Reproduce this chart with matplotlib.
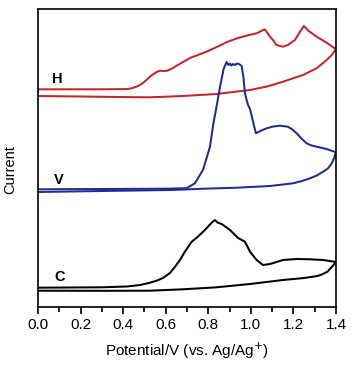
import matplotlib
matplotlib.use('Agg')
import matplotlib.pyplot as plt
from matplotlib.ticker import MultipleLocator

plt.rcParams['font.family'] = ['Liberation Sans', 'DejaVu Sans']

# cyclic voltammograms, current in arbitrary units (curves offset)
# H film
h_fwd_v = [0.0, 0.3, 0.418, 0.44, 0.465, 0.49, 0.512, 0.535, 0.559, 0.574, 0.59, 0.606,
           0.63, 0.653, 0.714, 0.794, 0.85, 0.888, 0.94, 0.982, 1.027, 1.058, 1.066, 1.074,
           1.09, 1.104, 1.12, 1.151, 1.174, 1.207, 1.231, 1.249, 1.27, 1.309, 1.356, 1.4]
h_fwd_i = [217.7, 217.7, 217.9, 218.7, 220.5, 223.5, 227.5, 232, 235.2, 236.3, 236, 236.2,
           238.5, 241.5, 249, 255.5, 261, 265, 269, 271.5, 273.7, 277, 277.5, 275.3,
           270.3, 267, 262, 260.3, 262, 267, 275.3, 281, 276.3, 270.3, 264.3, 257.7]
h_rev_v = [1.4, 1.38, 1.356, 1.309, 1.245, 1.151, 1.076, 0.996, 0.839, 0.681, 0.526, 0.371,
           0.2, 0.0]
h_rev_i = [257.7, 252, 247, 238.7, 232, 225.3, 220.5, 217, 213, 211, 209.7, 210,
           210.5, 211]

# V film
v_fwd_v = [0.0, 0.3, 0.6, 0.698, 0.737, 0.775, 0.808, 0.824, 0.836, 0.855, 0.872, 0.886,
           0.895, 0.902, 0.909, 0.916, 0.925, 0.935, 0.944, 0.957, 0.965, 0.972, 0.98, 0.987,
           0.996, 1.005, 1.015, 1.024, 1.045, 1.074, 1.105, 1.137, 1.174, 1.195, 1.215,
           1.24, 1.262, 1.285, 1.309, 1.356, 1.4]
v_fwd_i = [117.7, 118, 118.3, 118.8, 123.7, 137, 160.3, 183.7, 197, 220, 238, 245,
           242, 243.5, 241.5, 243, 242, 243.5, 243, 241, 230, 214, 207, 202,
           198, 190, 181, 173.7, 176, 178.7, 180.5, 181.3, 180.3, 177.5, 173.7,
           168, 163.7, 161.5, 160.3, 158, 154.7]
v_rev_v = [1.4, 1.39, 1.38, 1.362, 1.339, 1.31, 1.278, 1.24, 1.198, 1.09, 0.935, 0.779,
           0.624, 0.3, 0.0]
v_rev_i = [154.7, 148.5, 143.7, 138.5, 135.3, 131.5, 128.7, 126, 123.7, 121, 119.3, 118.3,
           117, 116, 115]

# C film
c_fwd_v = [0.0, 0.3, 0.418, 0.48, 0.526, 0.56, 0.587, 0.62, 0.644, 0.67, 0.69, 0.722,
           0.751, 0.784, 0.816, 0.831, 0.845, 0.863, 0.902, 0.94, 0.972, 0.985, 0.996,
           1.012, 1.027, 1.057, 1.09, 1.151, 1.215, 1.278, 1.339, 1.4]
c_fwd_i = [19.3, 19.7, 20.5, 22, 24.3, 26.5, 29, 34, 40.3, 48, 55.3, 65.3,
           70.3, 77, 84.3, 87, 84.3, 83, 77, 69, 65.3, 60, 55.3,
           51, 47, 42, 43, 47, 48, 47.7, 47, 45]
c_rev_v = [1.4, 1.38, 1.36, 1.333, 1.313, 1.25, 1.151, 0.996, 0.839, 0.681, 0.526, 0.3, 0.0]
c_rev_i = [45, 40, 35.3, 32.5, 31, 29, 27, 23, 19.7, 17.7, 16.3, 16.2, 16.3]

fig = plt.figure(figsize=(3.52, 3.72), dpi=100)
ax = fig.add_axes([38 / 352, 65 / 372, 298 / 352, 298 / 372])

red = '#c1272d'
blue = '#1f2d8e'
lw = 1.45
ax.plot(h_fwd_v, h_fwd_i, color=red, lw=lw)
ax.plot(h_rev_v, h_rev_i, color=red, lw=lw)
ax.plot(v_fwd_v, v_fwd_i, color=blue, lw=lw)
ax.plot(v_rev_v, v_rev_i, color=blue, lw=lw)
ax.plot(c_fwd_v, c_fwd_i, color='black', lw=lw)
ax.plot(c_rev_v, c_rev_i, color='black', lw=lw)

ax.text(0.09, 228, 'H', fontsize=10.5, fontweight='bold', ha='center', va='center')
ax.text(0.098, 127, 'V', fontsize=10.5, fontweight='bold', ha='center', va='center')
ax.text(0.10, 30, 'C', fontsize=10.5, fontweight='bold', ha='center', va='center')

ax.set_xlim(0, 1.4)
ax.set_ylim(0, 298)
ax.xaxis.set_major_locator(MultipleLocator(0.2))
ax.xaxis.set_minor_locator(MultipleLocator(0.1))
ax.set_yticks([])
ax.tick_params(axis='x', which='major', direction='out', length=5, width=1.2, labelsize=11, pad=3)
ax.tick_params(axis='x', which='minor', direction='out', length=3.5, width=1.2)
for s in ax.spines.values():
    s.set_linewidth(1.2)

ax.set_xlabel('Potential/V (vs. Ag/Ag$^{+}$)', fontsize=11, labelpad=6)
ax.set_ylabel('Current', fontsize=10.5)
ax.yaxis.set_label_coords(-0.068, 0.46)

fig.savefig('out.png', dpi=100)
